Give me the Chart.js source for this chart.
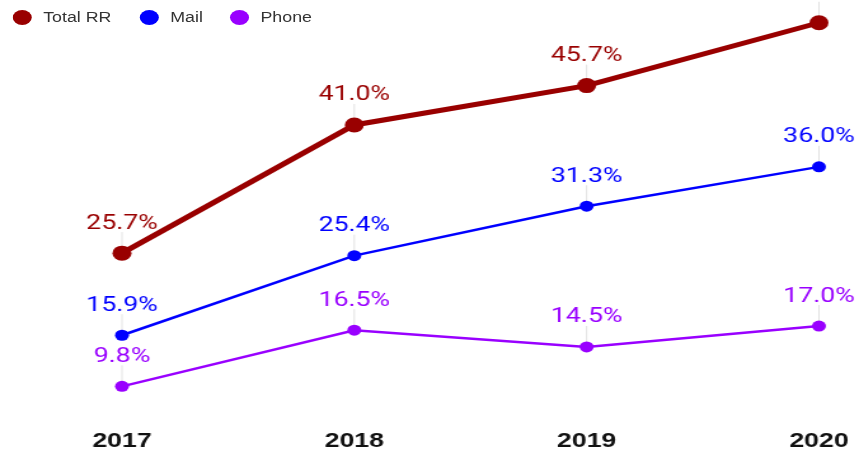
<!DOCTYPE html>
<html>
<head>
<meta charset="utf-8">
<script src="https://cdn.jsdelivr.net/npm/chart.js@4"></script>
<style>
  body { margin: 0; background: #fff; }
  #wrap { position: relative; width: 676px; height: 454px; transform: scaleX(1.2707); transform-origin: 0 0; }
  .leg { position: absolute; top: 9px; height: 16px; display: flex; align-items: center; font: 14px "Liberation Sans", Arial, sans-serif; color: #333; }
  .leg i { display: inline-block; width: 15px; height: 15px; border-radius: 50%; margin-right: 9px; }
</style>
</head>
<body>
<div id="wrap">
  <canvas id="c"></canvas>
  <div class="leg" style="left:10px"><i style="background:#990000"></i>Total RR</div>
  <div class="leg" style="left:110px"><i style="background:#0000ff"></i>Mail</div>
  <div class="leg" style="left:181px"><i style="background:#9900ff"></i>Phone</div>
</div>
<script>
const years = ['2017', '2018', '2019', '2020'];
const totalRR = [25.7, 41.0, 45.7, 53.2];
const mail = [15.9, 25.4, 31.3, 36.0];
const phone = [9.8, 16.5, 14.5, 17.0];

// value labels with a thin grey leader line above each point
const valueLabels = {
    id: 'valueLabels',
    beforeDatasetsDraw(chart) {
        let ctx = chart.ctx;
        ctx.save();
        ctx.strokeStyle = '#e2e2e2';
        ctx.lineWidth = 1;
        chart.data.datasets.forEach((ds, i) => {
            chart.getDatasetMeta(i).data.forEach(p => {
                ctx.beginPath();
                ctx.moveTo(p.x, p.y - 21);
                ctx.lineTo(p.x, p.y);
                ctx.stroke();
            });
        });
        ctx.restore();
    },
    afterDatasetsDraw(chart) {
        let ctx = chart.ctx;
        ctx.save();
        ctx.font = '21px Roboto';
        ctx.textAlign = 'center';
        ctx.textBaseline = 'alphabetic';
        chart.data.datasets.forEach((ds, i) => {
            ctx.fillStyle = ds.borderColor;
            chart.getDatasetMeta(i).data.forEach((p, j) => {
                ctx.fillText(ds.data[j].toFixed(1) + '%', p.x, p.y - 24.5);
            });
        });
        ctx.restore();
    }
};

let mk = (label, data, color, width, radius) => ({
    label: label,
    data: data,
    borderColor: color,
    backgroundColor: color,
    borderWidth: width,
    pointRadius: radius,
    pointHoverRadius: radius,
    pointBorderWidth: 0,
    tension: 0,
    clip: false
});

new Chart(document.getElementById('c'), {
    type: 'line',
    data: {
        labels: years,
        datasets: [
            mk('Total RR', totalRR, '#990000', 5, 7.5),
            mk('Mail', mail, '#0000ff', 2.5, 5.5),
            mk('Phone', phone, '#9900ff', 2.5, 5.5)
        ]
    },
    options: {
        responsive: true,
        maintainAspectRatio: false,
        animation: false,
        layout: { padding: { left: 96, right: 31.5, top: 23, bottom: -4 } },
        plugins: {
            legend: { display: false },
            tooltip: { enabled: false }
        },
        scales: {
            x: {
                offset: false,
                grid: { display: false, drawTicks: false },
                border: { display: false },
                ticks: {
                    padding: 4,
                    color: '#111',
                    font: { family: 'Liberation Sans', size: 21, weight: 'bold' }
                }
            },
            y: {
                display: false,
                min: 5.21,
                max: 53.17
            }
        }
    },
    plugins: [valueLabels]
});
</script>
</body>
</html>
